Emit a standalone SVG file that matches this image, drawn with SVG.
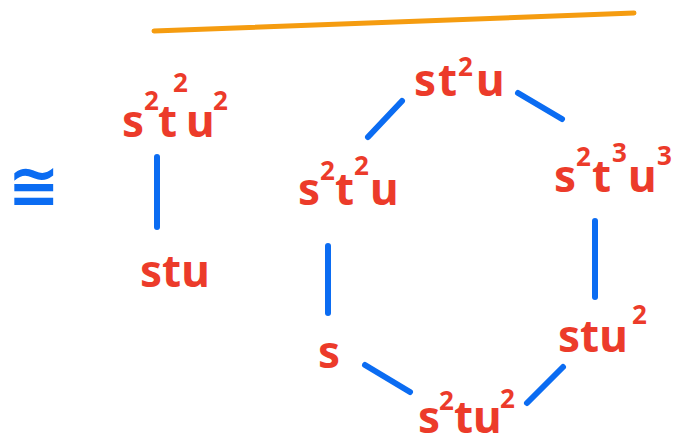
<svg xmlns="http://www.w3.org/2000/svg" width="678" height="447" viewBox="0 0 678 447">
<style>
.lbl{font-family:"Noto Sans","DejaVu Sans",sans-serif;font-weight:bold;fill:#ec3b2a;font-size:44px}
.sup{font-size:26px}
.edge{stroke:#0b6cf2;stroke-width:6;stroke-linecap:round;fill:none}
</style>
<rect width="678" height="447" fill="#fff"/>
<line x1="154" y1="31" x2="634" y2="13" stroke="#f59c10" stroke-width="5" stroke-linecap="round"/>
<g id="iso"><text x="8" y="207" font-family="DejaVu Sans,sans-serif" font-weight="bold" font-size="62" fill="#0b6cf2">≅</text></g>
<g id="connectors">
<line class="edge" x1="157" y1="157" x2="157" y2="227"/>
<line class="edge" x1="402" y1="101" x2="368" y2="137"/>
<line class="edge" x1="518" y1="93" x2="562" y2="119"/>
<line class="edge" x1="328" y1="246" x2="328" y2="313"/>
<line class="edge" x1="595" y1="221" x2="595" y2="297"/>
<line class="edge" x1="365" y1="365" x2="410" y2="392"/>
<line class="edge" x1="527" y1="403" x2="563" y2="367"/>
</g>
<g id="n-s2t2u2"><text class="lbl"><tspan x="122" y="137">s</tspan><tspan class="sup" x="144" y="110">2</tspan><tspan x="158" y="137">t</tspan><tspan class="sup" x="173" y="92">2</tspan><tspan x="186" y="137">u</tspan><tspan class="sup" x="213" y="110">2</tspan></text></g>
<g id="n-stu"><text class="lbl" x="140" y="287">stu</text></g>
<g id="n-st2u"><text class="lbl"><tspan x="414" y="96">s</tspan><tspan x="438" y="96">t</tspan><tspan class="sup" x="458" y="76">2</tspan><tspan x="476" y="96">u</tspan></text></g>
<g id="n-s2t2u"><text class="lbl"><tspan x="298" y="205">s</tspan><tspan class="sup" x="320" y="180">2</tspan><tspan x="335" y="205">t</tspan><tspan class="sup" x="354" y="175">2</tspan><tspan x="370" y="205">u</tspan></text></g>
<g id="n-s2t3u3"><text class="lbl"><tspan x="554" y="192">s</tspan><tspan class="sup" x="576" y="166">2</tspan><tspan x="592" y="192">t</tspan><tspan class="sup" x="612" y="162">3</tspan><tspan x="628" y="192">u</tspan><tspan class="sup" x="657" y="165">3</tspan></text></g>
<g id="n-s"><text class="lbl" x="318" y="368">s</text></g>
<g id="n-stu2"><text class="lbl"><tspan x="558" y="352">stu</tspan><tspan class="sup" x="632" y="324">2</tspan></text></g>
<g id="n-s2tu2"><text class="lbl"><tspan x="418" y="433">s</tspan><tspan class="sup" x="439" y="410">2</tspan><tspan x="454" y="433">tu</tspan><tspan class="sup" x="500" y="408">2</tspan></text></g>
</svg>
